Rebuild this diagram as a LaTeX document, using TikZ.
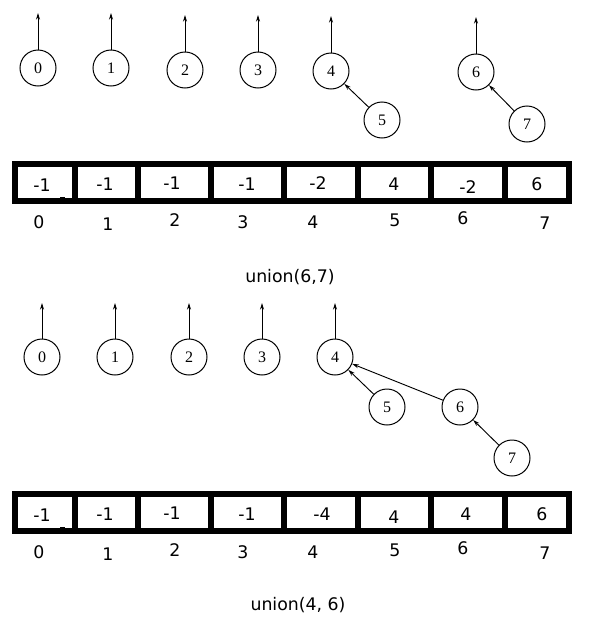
\documentclass[tikz,border=0pt]{standalone}
\usepackage{fontspec}
\setmainfont{Liberation Serif}
\newfontfamily\sansf{DejaVu Sans}
\usetikzlibrary{arrows.meta}
\begin{document}
\begin{tikzpicture}[x=0.75pt,y=-0.75pt,
  vert/.style={circle,draw,line width=0.75pt,minimum size=27pt,inner sep=0pt,font=\fontsize{12}{12}\selectfont},
  arw/.style={-{Stealth[length=5pt,width=3pt]},line width=0.7pt},
  arrline/.style={line width=4.5pt},
  val/.style={font=\sansf\fontsize{13}{14}\selectfont,inner sep=0pt},
  captxt/.style={font=\sansf\fontsize{13}{14}\selectfont,inner sep=0pt}]
\fill[white] (0,0) rectangle (602,621);
\useasboundingbox (0,0) rectangle (602,621);

% ---------- first forest ----------
\node[vert] (a0) at (38,68) {0};
\node[vert] (a1) at (111,68) {1};
\node[vert] (a2) at (185,70) {2};
\node[vert] (a3) at (258,70) {3};
\node[vert] (a4) at (331,71) {4};
\node[vert] (a5) at (382,120) {5};
\node[vert] (a6) at (476,72) {6};
\node[vert] (a7) at (527,124) {7};
\coordinate (au0) at (38,13);
\coordinate (au1) at (111,13);
\coordinate (au2) at (185,15);
\coordinate (au3) at (258,15);
\coordinate (au4) at (331,16);
\coordinate (au6) at (476,17);
\foreach \i in {0,1,2,3,4,6} \draw[arw] (a\i) -- (au\i);
\draw[arw] (a5) -- (a4);
\draw[arw] (a7) -- (a6);

% ---------- first array ----------
\draw[arrline] (15,164) rectangle (569,201);
\foreach \x in {74.5,137.5,210.5,283.5,358,430.5,504.5}
  \draw[arrline] (\x,164) -- (\x,201);
\fill (60,197) rectangle (65,200);
\node[val] (v0) at (42,185) {-1};
\node[val] (v1) at (105,184) {-1};
\node[val] (v2) at (172,183) {-1};
\node[val] (v3) at (247,184) {-1};
\node[val] (v4) at (318,183) {-2};
\node[val] (v5) at (394,184) {4};
\node[val] (v6) at (468,187) {-2};
\node[val] (v7) at (537,184) {6};
\node[val] (i0) at (39,222) {0};
\node[val] (i1) at (108,224) {1};
\node[val] (i2) at (175,220) {2};
\node[val] (i3) at (243,222) {3};
\node[val] (i4) at (313,222) {4};
\node[val] (i5) at (395,220) {5};
\node[val] (i6) at (463,218) {6};
\node[val] (i7) at (545,223) {7};
\node[captxt] (u1) at (290,277) {union(6,7)};

% ---------- second forest ----------
\node[vert] (b0) at (42,357) {0};
\node[vert] (b1) at (115,357) {1};
\node[vert] (b2) at (189,357) {2};
\node[vert] (b3) at (262,357) {3};
\node[vert] (b4) at (335,357) {4};
\node[vert] (b5) at (387,407) {5};
\node[vert] (b6) at (460,407) {6};
\node[vert] (b7) at (512,458) {7};
\coordinate (bu0) at (42,303);
\coordinate (bu1) at (115,303);
\coordinate (bu2) at (189,303);
\coordinate (bu3) at (262,303);
\coordinate (bu4) at (335,303);
\foreach \i in {0,1,2,3,4} \draw[arw] (b\i) -- (bu\i);
\draw[arw] (b5) -- (b4);
\draw[arw] (b6) -- (b4);
\draw[arw] (b7) -- (b6);

% ---------- second array ----------
\draw[arrline] (15,494) rectangle (569,531);
\foreach \x in {74.5,137.5,210.5,283.5,358,430.5,504.5}
  \draw[arrline] (\x,494) -- (\x,531);
\fill (60,527) rectangle (65,530);
\node[val] (w0) at (42,515) {-1};
\node[val] (w1) at (105,514) {-1};
\node[val] (w2) at (172,513) {-1};
\node[val] (w3) at (247,514) {-1};
\node[val] (w4) at (322,514) {-4};
\node[val] (w5) at (394,517) {4};
\node[val] (w6) at (466,514) {4};
\node[val] (w7) at (542,514) {6};
\node[val] (j0) at (39,552) {0};
\node[val] (j1) at (108,554) {1};
\node[val] (j2) at (175,550) {2};
\node[val] (j3) at (243,552) {3};
\node[val] (j4) at (313,552) {4};
\node[val] (j5) at (395,550) {5};
\node[val] (j6) at (463,548) {6};
\node[val] (j7) at (545,553) {7};
\node[captxt] (u2) at (298,605) {union(4, 6)};
\end{tikzpicture}
\end{document}
